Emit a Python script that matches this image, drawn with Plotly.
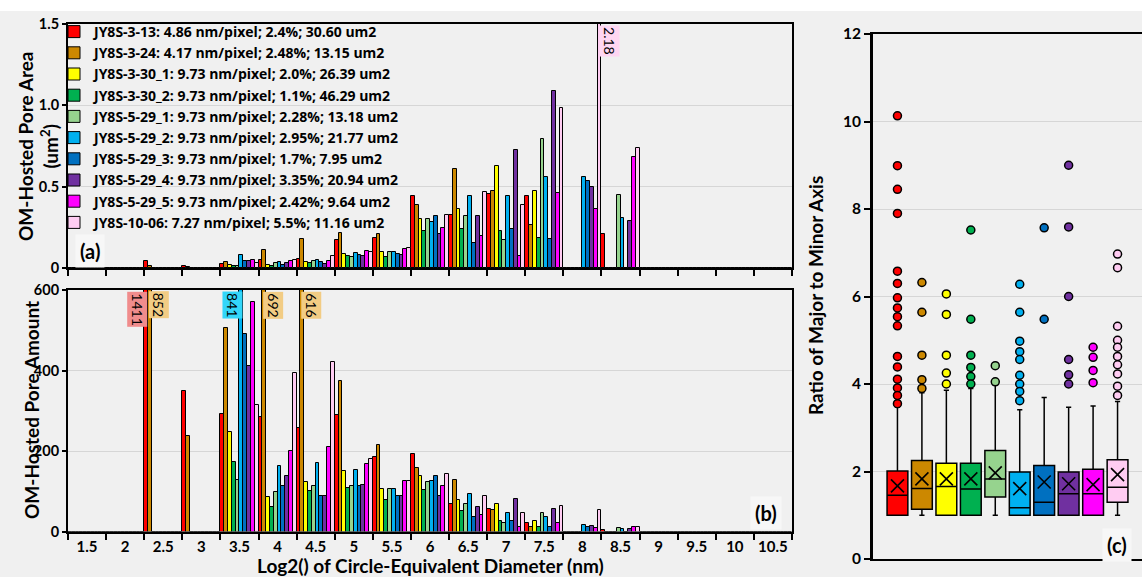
import plotly.graph_objects as go

W, H = 1142, 577

bins = ["1.5", "2", "2.5", "3", "3.5", "4", "4.5", "5", "5.5", "6", "6.5",
        "7", "7.5", "8", "8.5", "9", "9.5", "10", "10.5"]

series_names = [
    "JY8S-3-13: 4.86 nm/pixel; 2.4%; 30.60 um2",
    "JY8S-3-24: 4.17 nm/pixel; 2.48%; 13.15 um2",
    "JY8S-3-30_1: 9.73 nm/pixel; 2.0%; 26.39 um2",
    "JY8S-3-30_2: 9.73 nm/pixel; 1.1%; 46.29 um2",
    "JY8S-5-29_1: 9.73 nm/pixel; 2.28%; 13.18 um2",
    "JY8S-5-29_2: 9.73 nm/pixel; 2.95%; 21.77 um2",
    "JY8S-5-29_3: 9.73 nm/pixel; 1.7%; 7.95 um2",
    "JY8S-5-29_4: 9.73 nm/pixel; 3.35%; 20.94 um2",
    "JY8S-5-29_5: 9.73 nm/pixel; 2.42%; 9.64 um2",
    "JY8S-10-06: 7.27 nm/pixel; 5.5%; 11.16 um2",
]

colors = ["#FF0000", "#CC8800", "#FFFF00", "#00B050", "#96D38E",
          "#00B0F0", "#0070C0", "#7030A0", "#FF00FF", "#FFCCF2"]

# (a) OM-hosted pore area (um2) per bin
area_3_13   = [0, 0, 0.04, 0.015, 0.026, 0.05, 0.057, 0.17, 0.184, 0.44, 0.324, 0.458, 0.44, 0, 0.21, 0, 0, 0, 0]
area_3_24   = [0, 0, 0.015, 0.008, 0.036, 0.11, 0.176, 0.215, 0.207, 0.386, 0.608, 0.472, 0.262, 0, 0, 0, 0, 0, 0]
area_3_30_1 = [0, 0, 0, 0, 0.021, 0.02, 0.036, 0.088, 0.10, 0.304, 0.36, 0.627, 0.472, 0, 0, 0, 0, 0, 0]
area_3_30_2 = [0, 0, 0, 0, 0.01, 0.015, 0.033, 0.071, 0.067, 0.23, 0.242, 0.227, 0.184, 0, 0, 0, 0, 0, 0]
area_5_29_1 = [0, 0, 0, 0, 0.01, 0.03, 0.04, 0.068, 0.10, 0.30, 0.32, 0.17, 0.793, 0, 0.45, 0, 0, 0, 0]
area_5_29_2 = [0, 0, 0, 0, 0.077, 0.036, 0.052, 0.09, 0.10, 0.28, 0.44, 0.44, 0.56, 0.559, 0.31, 0, 0, 0, 0]
area_5_29_3 = [0, 0, 0, 0, 0.046, 0.02, 0.036, 0.077, 0.088, 0.32, 0.153, 0.242, 0.176, 0.534, 0, 0, 0, 0, 0]
area_5_29_4 = [0, 0, 0, 0, 0.04, 0.03, 0.026, 0.071, 0.08, 0.21, 0.32, 0.725, 1.09, 0.497, 0.29, 0, 0, 0, 0]
area_5_29_5 = [0, 0, 0, 0, 0.052, 0.041, 0.046, 0.104, 0.114, 0.245, 0.194, 0.071, 0.464, 0.365, 0.68, 0, 0, 0, 0]
area_10_06  = [0, 0, 0, 0, 0.03, 0.052, 0.071, 0.10, 0.125, 0.324, 0.466, 0.39, 0.986, 2.18, 0.74, 0, 0, 0, 0]
area = [area_3_13, area_3_24, area_3_30_1, area_3_30_2, area_5_29_1,
        area_5_29_2, area_5_29_3, area_5_29_4, area_5_29_5, area_10_06]

# (b) OM-hosted pore amount per bin
amt_3_13   = [0, 0, 1411, 350, 292, 284, 257, 289, 185, 193, 69, 56, 22, 0, 4, 0, 0, 0, 0]
amt_3_24   = [0, 0, 852, 238, 505, 692, 616, 375, 214, 159, 129, 54, 12, 0, 0, 0, 0, 0, 0]
amt_3_30_1 = [0, 0, 0, 0, 247, 85, 122, 151, 105, 137, 79, 69, 27, 0, 0, 0, 0, 0, 0]
amt_3_30_2 = [0, 0, 0, 0, 172, 62, 100, 108, 79, 104, 51, 25, 10, 0, 0, 0, 0, 0, 0]
amt_5_29_1 = [0, 0, 0, 0, 129, 98, 112, 112, 105, 122, 69, 22, 46, 0, 8, 0, 0, 0, 0]
amt_5_29_2 = [0, 0, 0, 0, 841, 162, 170, 152, 105, 125, 93, 46, 36, 17, 6, 0, 0, 0, 0]
amt_5_29_3 = [0, 0, 0, 0, 491, 114, 87, 112, 87, 139, 37, 25, 12, 11, 0, 0, 0, 0, 0]
amt_5_29_4 = [0, 0, 0, 0, 411, 139, 87, 116, 87, 87, 61, 81, 56, 14, 6, 0, 0, 0, 0]
amt_5_29_5 = [0, 0, 0, 0, 571, 199, 209, 168, 125, 114, 40, 10, 21, 8, 10, 0, 0, 0, 0]
amt_10_06  = [0, 0, 0, 0, 315, 394, 421, 180, 126, 144, 89, 46, 64, 54, 10, 0, 0, 0, 0]
amount = [amt_3_13, amt_3_24, amt_3_30_1, amt_3_30_2, amt_5_29_1,
          amt_5_29_2, amt_5_29_3, amt_5_29_4, amt_5_29_5, amt_10_06]

# (c) ratio of major to minor axis: box statistics
box_q1     = [1.0, 1.14, 1.0, 1.0, 1.42, 1.0, 1.0, 1.0, 1.0, 1.30]
box_median = [1.455, 1.61, 1.66, 1.60, 1.83, 1.17, 1.30, 1.49, 1.49, 1.64]
box_q3     = [2.01, 2.25, 2.19, 2.19, 2.48, 1.99, 2.14, 1.99, 2.05, 2.27]
box_mean   = [1.67, 1.83, 1.83, 1.83, 1.97, 1.61, 1.76, 1.72, 1.70, 1.93]
box_lower  = [1.0, 1.0, 1.0, 1.0, 1.0, 1.0, 1.0, 1.0, 1.0, 1.0]
box_upper  = [3.47, 3.8, 3.86, 3.9, 3.98, 3.41, 3.69, 3.47, 3.5, 3.6]
outliers = [
    [10.13, 8.99, 8.45, 7.9, 6.58, 6.3, 5.97, 5.74, 5.54, 5.33, 4.63, 4.39, 4.11, 3.91, 3.74, 3.55],
    [6.32, 5.64, 4.66, 4.10, 3.90],
    [6.06, 5.59, 4.66, 4.25, 4.0],
    [7.52, 5.48, 4.66, 4.38, 4.17, 4.0],
    [4.42, 4.05],
    [6.28, 5.64, 4.98, 4.74, 4.56, 4.2, 4.0, 3.83, 3.62],
    [7.57, 5.48],
    [9.0, 7.59, 6.0, 4.56, 4.21, 4.0],
    [4.84, 4.61, 4.31, 4.03],
    [6.97, 6.66, 5.32, 5.0, 4.84, 4.63, 4.44, 4.23, 3.95, 3.74],
]

AREA_MAX, AMT_MAX = 1.5, 600

# ---------------- layout geometry (pixels) ----------------
PX_L, PX_R = 68, 792
A_TOP, A_BOT = 24, 268
B_TOP, B_BOT = 290, 531.5
C_L, C_R = 873, 1142
C_TOP, C_BOT = 34, 559


def xd(a, b):
    return [a / W, b / W]


def yd(top, bot):
    return [1 - bot / H, 1 - top / H]


FONT = "Lato"
GRID = "#D6D6D6"
BG = "#F0F0F0"

fig = go.Figure()

n = len(series_names)
for i in range(n):
    fig.add_trace(go.Bar(
        x=bins, y=area[i], name=series_names[i], legendgroup=str(i),
        marker=dict(color=colors[i], line=dict(color="black", width=1)),
        xaxis="x", yaxis="y", showlegend=True))
for i in range(n):
    fig.add_trace(go.Bar(
        x=bins, y=amount[i], name=series_names[i], legendgroup=str(i),
        marker=dict(color=colors[i], line=dict(color="black", width=1)),
        xaxis="x2", yaxis="y2", showlegend=False))

for i in range(n):
    fig.add_trace(go.Box(
        x=[i], q1=[box_q1[i]], median=[box_median[i]], q3=[box_q3[i]],
        lowerfence=[box_lower[i]], upperfence=[box_upper[i]],
        fillcolor=colors[i], line=dict(color="black", width=1.5),
        width=0.85, whiskerwidth=0.25, boxpoints=False,
        xaxis="x3", yaxis="y3", showlegend=False, name=series_names[i]))
    fig.add_trace(go.Scatter(
        x=[i] * len(outliers[i]), y=outliers[i], mode="markers",
        marker=dict(symbol="circle", size=8, color=colors[i],
                    line=dict(color="black", width=1.5)),
        xaxis="x3", yaxis="y3", showlegend=False, hoverinfo="y"))
    fig.add_trace(go.Scatter(
        x=[i], y=[box_mean[i]], mode="markers",
        marker=dict(symbol="x-thin", size=13, color="black",
                    line=dict(color="black", width=1.6)),
        xaxis="x3", yaxis="y3", showlegend=False, hoverinfo="y"))

xtickfont = dict(family=FONT, size=15, color="black", weight="bold")
ytickfont = dict(family=FONT, size=14.5, color="black", weight="bold")
ctickfont = dict(family=FONT, size=15.5, color="black", weight="bold")

common_x = dict(type="category", categoryorder="array", categoryarray=bins,
                showline=True, linecolor="black", linewidth=2, mirror=True,
                ticks="outside", tickson="boundaries", ticklen=6, tickwidth=1.5,
                tickcolor="black", showgrid=False, zeroline=False, tickangle=0,
                automargin=False, fixedrange=True)

common_y = dict(showline=True, linecolor="black", linewidth=2, mirror=True,
                ticks="outside", ticklen=4, tickwidth=1.5, tickcolor="black",
                showgrid=True, gridcolor=GRID, gridwidth=1, zeroline=False,
                tickfont=ytickfont, automargin=False, fixedrange=True)

fig.update_layout(
    width=W, height=H,
    margin=dict(l=0, r=0, t=0, b=0),
    paper_bgcolor=BG, plot_bgcolor=BG,
    font=dict(family=FONT, color="black"),
    barmode="group", bargap=0, bargroupgap=0, boxmode="overlay",
    xaxis=dict(domain=xd(PX_L, PX_R), anchor="y", showticklabels=False, **common_x),
    yaxis=dict(domain=yd(A_TOP, A_BOT), anchor="x", range=[0, AREA_MAX],
               tickvals=[0, 0.5, 1.0, 1.5], ticktext=["0", "0.5", "1.0", "1.5"],
               **common_y),
    xaxis2=dict(domain=xd(PX_L, PX_R), anchor="y2", showticklabels=True,
                tickfont=xtickfont, **common_x),
    yaxis2=dict(domain=yd(B_TOP, B_BOT), anchor="x2", range=[0, AMT_MAX],
                tickvals=[0, 200, 400, 600], **common_y),
    xaxis3=dict(domain=xd(C_L, C_R), anchor="y3", range=[-1, 10],
                showticklabels=False, ticks="", showline=True, linecolor="black",
                linewidth=2, mirror=True, showgrid=False, zeroline=False,
                automargin=False, fixedrange=True),
    yaxis3=dict(domain=yd(C_TOP, C_BOT), anchor="x3", range=[0, 12], dtick=2,
                showline=True, linecolor="black", linewidth=3,
                ticks="outside", ticklen=6, tickwidth=1.5, tickcolor="black",
                showgrid=True, gridcolor=GRID, gridwidth=1, zeroline=False,
                tickfont=ctickfont, automargin=False, fixedrange=True),
    legend=dict(x=54 / W, y=1 - 16 / H, xanchor="left", yanchor="top",
                bgcolor="rgba(0,0,0,0)", borderwidth=0, tracegroupgap=0,
                font=dict(family="Open Sans", size=14, color="black", weight="bold")),
    showlegend=True,
)

# white strip along the top of the page
fig.add_shape(type="rect", xref="paper", yref="paper", x0=-0.01, x1=1.01,
              y0=1 - 11 / H, y1=1.02, fillcolor="white", line=dict(width=0),
              layer="below")

ann = []
title_font = dict(family=FONT, size=19, color="black", weight="bold")
ann.append(dict(text="OM-Hosted Pore Area<br>(um<sup>2</sup>)", x=38 / W, y=1 - 146 / H,
                xref="paper", yref="paper", textangle=-90, showarrow=False,
                font=title_font, xanchor="center", yanchor="middle"))
ann.append(dict(text="OM-Hosted Pore Amount", x=31 / W, y=1 - 410 / H,
                xref="paper", yref="paper", textangle=-90, showarrow=False,
                font=title_font, xanchor="center", yanchor="middle"))
ann.append(dict(text="Log2() of Circle-Equivalent Diameter (nm)", x=430 / W, y=1 - 565 / H,
                xref="paper", yref="paper", showarrow=False,
                font=title_font, xanchor="center", yanchor="middle"))
ann.append(dict(text="Ratio of Major to Minor Axis", x=815 / W, y=1 - 296 / H,
                xref="paper", yref="paper", textangle=-90, showarrow=False,
                font=title_font, xanchor="center", yanchor="middle"))

panel_font = dict(family=FONT, size=20, color="black", weight="bold")
for txt, px, py in [("(a)", 90, 251), ("(b)", 766, 513), ("(c)", 1117, 545)]:
    ann.append(dict(text=txt, x=px / W, y=1 - py / H, xref="paper", yref="paper",
                    showarrow=False, font=panel_font, bgcolor="#F7F7F7",
                    borderpad=4, xanchor="center", yanchor="middle"))

# labels for bars clipped by the axis maximum
bw = (PX_R - PX_L) / len(bins) / n
HALF_LABEL = 7.5  # half thickness of a rotated label box (px)
label_specs = [  # (panel, series, side, background)
    ("b", 0, "left", "#F08C8C"),
    ("b", 1, "right", "#F2CC84"),
    ("b", 5, "left", "#33D6FA"),
    ("a", 9, "right", "#FFD6F2"),
]
for panel, s, side, bg in label_specs:
    vals = amount[s] if panel == "b" else area[s]
    vmax = AMT_MAX if panel == "b" else AREA_MAX
    for b, v in enumerate(vals):
        if v <= vmax:
            continue
        left_edge = (s - n / 2) * bw
        right_edge = (s - n / 2 + 1) * bw
        shift = (left_edge - HALF_LABEL + 1) if side == "left" else (right_edge + HALF_LABEL)
        ann.append(dict(
            text=f"{v:g}", x=b, y=vmax,
            xref="x2" if panel == "b" else "x", yref="y2" if panel == "b" else "y",
            xanchor="center", yanchor="top", xshift=shift,
            yshift=-1, textangle=90, showarrow=False, bgcolor=bg, borderpad=1,
            font=dict(family=FONT, size=14, color="black")))

fig.update_layout(annotations=ann)

fig.write_html(
    "out.html",
    config={"displayModeBar": False},
    post_script="document.body.style.margin='0px';"
                "document.body.style.background='#F0F0F0';",
)
